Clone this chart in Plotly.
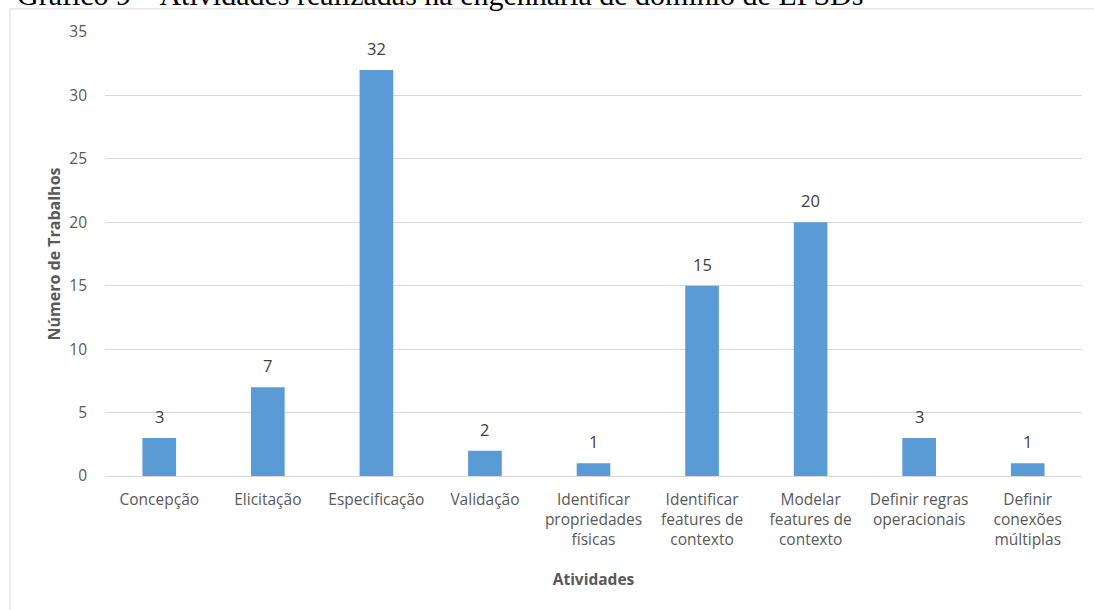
import plotly.graph_objects as go

categories = ["Concepção", "Elicitação", "Especificação", "Validação",
              "Identificar<br>propriedades<br>físicas",
              "Identificar<br>features de<br>contexto",
              "Modelar<br>features de<br>contexto",
              "Definir regras<br>operacionais",
              "Definir<br>conexões<br>múltiplas"]
values = [3, 7, 32, 2, 1, 15, 20, 3, 1]
y_ticks = [0, 5, 10, 15, 20, 25, 30, 35]

title_text = "Gráfico 9 – Atividades realizadas na engenharia de domínio de LPSDs"
font_fam = "Open Sans, Noto Sans, sans-serif"

fig = go.Figure()
fig.add_trace(go.Bar(
    x=categories, y=values,
    marker=dict(color="#5B9BD5", line=dict(width=0)),
    hoverinfo="x+y",
))

for c, v in zip(categories, values):
    fig.add_annotation(x=c, y=v, text=str(v), showarrow=False,
                       xanchor="center", yanchor="bottom", yshift=8,
                       font=dict(family=font_fam, size=16.5, color="#404040"))

fig.update_layout(
    width=1094, height=610,
    margin=dict(l=105, r=12, t=32, b=134),
    paper_bgcolor="white", plot_bgcolor="white",
    bargap=0.69,
    showlegend=False,
    font=dict(family=font_fam, size=15, color="#595959"),
    xaxis=dict(
        tickfont=dict(family=font_fam, size=15.5, color="#595959"),
        showline=True, linecolor="#D9D9D9", linewidth=1,
        ticks="", showgrid=False, ticklabelstandoff=9,
        title=dict(text="<b>Atividades</b>", font=dict(family=font_fam, size=15.5, color="#595959"), standoff=25),
    ),
    yaxis=dict(
        range=[0, 35], tickvals=y_ticks,
        tickfont=dict(family=font_fam, size=15.5, color="#595959"),
        showgrid=True, gridcolor="#D9D9D9", gridwidth=1,
        zeroline=False, ticks="", ticklabelstandoff=17,
        title=dict(text="<b>Número de Trabalhos</b>", font=dict(family=font_fam, size=16, color="#595959"), standoff=4),
    ),
)

fig.add_shape(type="rect", xref="paper", yref="paper",
              x0=-0.0972, x1=1.05, y0=-0.5, y1=1.052,
              line=dict(color="#D9D9D9", width=1), fillcolor="rgba(0,0,0,0)", layer="below")

fig.add_annotation(text=title_text, xref="paper", yref="paper",
                   x=0.343, y=1.0428, xanchor="center", yanchor="bottom",
                   showarrow=False,
                   font=dict(family="Liberation Serif, Times New Roman, serif", size=30, color="black"))

fig.write_html("out.html")
